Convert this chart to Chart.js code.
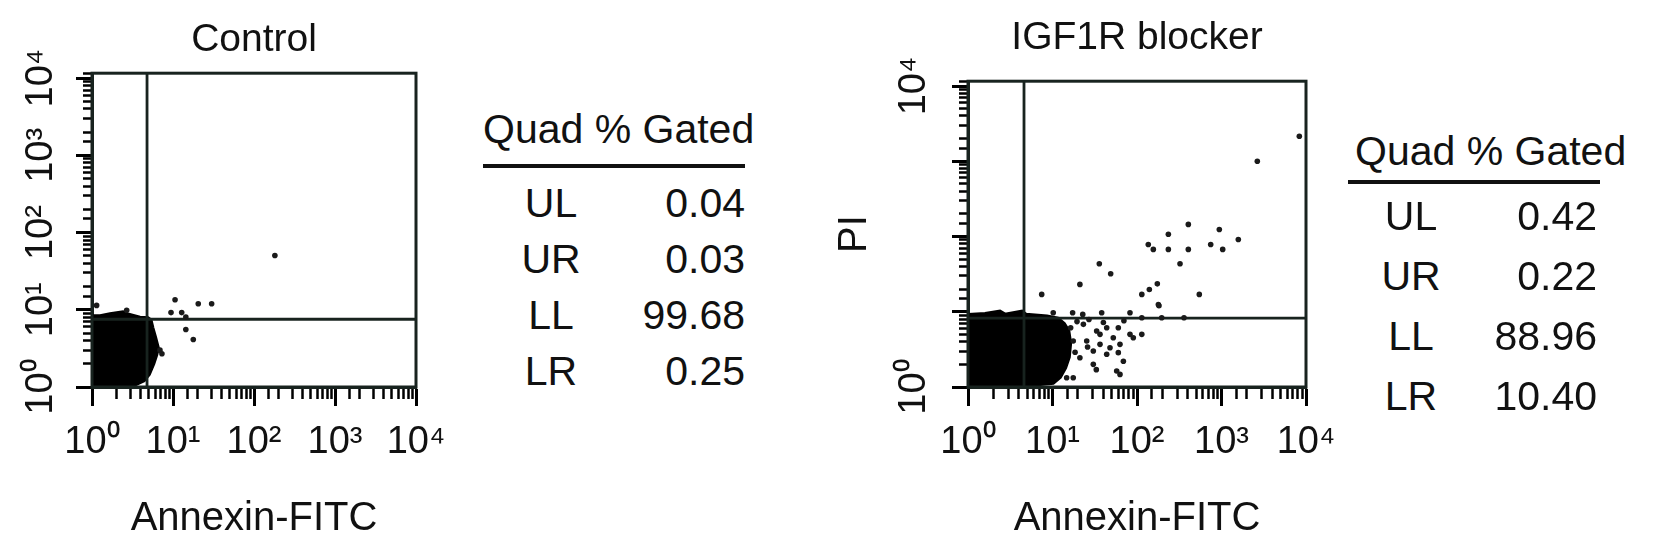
<!DOCTYPE html>
<html>
<head>
<meta charset="utf-8">
<script src="https://cdn.jsdelivr.net/npm/chart.js@4.4.0/dist/chart.umd.min.js"></script>
<style>
  html, body { margin: 0; padding: 0; background: #fff; }
  #page { position: relative; width: 1654px; height: 552px; overflow: hidden;
          font-family: 'Liberation Sans', Arial, sans-serif; color: #111; }
  canvas { position: absolute; top: 0; }
  .quad { position: absolute; font-size: 41px; line-height: 41px; white-space: nowrap; z-index: 2; }
  .rule { position: absolute; height: 4px; background: #111; z-index: 2; }
</style>
</head>
<body>
<div id="page">
  <canvas id="controlChart" width="460" height="552" style="left:0px"></canvas>
  <canvas id="blockerChart" width="530" height="552" style="left:820px"></canvas>
  <div id="controlTable"></div>
  <div id="blockerTable"></div>
</div>
<script>
// log axes, one label per decade
var decadeTicks = [1, 10, 100, 1000, 10000];
var decadeLabels = ['10⁰', '10¹', '10²', '10³', '10⁴'];
var blockerYLabels = ['10⁰', '', '', '', '10⁴'];
var axisMin = 1;
var xAxisMax = 10000;
var yAxisMax = 11600;

// quadrant statistics
var quadNames = ['UL', 'UR', 'LL', 'LR'];
var controlGated = [0.04, 0.03, 99.68, 0.25];
var blockerGated = [0.42, 0.22, 88.96, 10.40];

// quadrant gates (Annexin, PI)
var controlGateX = 4.78, controlGateY = 7.54;
var blockerGateX = 4.6, blockerGateY = 8.25;

// outline of the dense live-cell population (LL)
var controlBlobX = [1, 1, 1.26, 1.67, 2.41, 2.7, 3.91, 4.91, 5.35, 5.66, 6.1, 6.6, 6.3, 5.8, 5.1, 4.4, 3.4, 1.67, 1];
var controlBlobY = [1.03, 8.4, 8.4, 8.9, 9.4, 8.9, 8.0, 7.9, 7.4, 5.8, 4.4, 3.2, 2.6, 2.0, 1.45, 1.2, 1.06, 1.02, 1.03];
var blockerBlobX = [1, 1, 1.59, 2.39, 2.74, 4.36, 4.86, 8.61, 11.6, 13.8, 15.6, 16.4, 15.8, 14.3, 12.4, 10.2, 5.42, 1.82, 1];
var blockerBlobY = [1.08, 9.2, 9.5, 10.2, 9.3, 10.2, 9.3, 8.8, 8.2, 7.0, 5.6, 3.8, 2.5, 1.8, 1.35, 1.12, 1.05, 1.05, 1.08];

// single events outside the main population
var controlEventsX = [1.14, 2.68, 10.6, 20.5, 30.0, 9.45, 12.8, 14.4, 14.4, 17.8, 181, 6.9, 7.3];
var controlEventsY = [11.4, 9.86, 13.5, 12.0, 12.0, 9.2, 9.2, 8.07, 5.55, 4.13, 50.5, 3.0, 2.7];
var blockerEventsX = [16.4, 23.2, 33.3, 43.8, 60.1, 82.6, 114, 17.6, 25.4, 36.5, 52.4, 62.9, 30.4, 43.8, 60.1, 21.1, 30.4, 57.5, 62.9, 90.4, 36.5, 47.9, 14.7, 17.6,
                      19.5, 27.0, 40.0, 70.0, 18.5, 26.0, 33.0, 69.0,
                      10.2, 17.3, 22.8, 38.2, 82.6, 114, 196, 360,
                      7.45, 21.1, 35.8, 48.8, 114, 140, 174, 179, 182, 546, 136, 156, 235, 405, 235, 405, 323, 745, 942, 1033, 1581, 2654, 8337];
var blockerEventsY = [6.13, 6.8, 5.54, 6.13, 6.13, 5.01, 5.01, 4.08, 4.08, 3.69, 4.52, 3.69, 3.01, 2.72, 2.86, 2.45, 2.0, 1.63, 1.47, 4.52, 5.01, 3.33, 1.33, 1.33,
                      7.4, 7.9, 7.2, 7.6, 2.9, 3.4, 1.7, 2.2,
                      9.7, 9.7, 9.23, 9.7, 9.7, 8.32, 8.32, 8.32,
                      17.0, 23.1, 43.4, 32.0, 17.0, 19.8, 23.5, 12.5, 12.0, 17.0, 78.5, 67.4, 107, 145, 67.4, 67.4, 43.4, 78.5, 124, 67.4, 91.4, 1003, 2153];

var frameColor = '#18231f';
Chart.defaults.font.family = "'Liberation Sans', Arial, sans-serif";
Chart.defaults.color = '#111';

function toPoints(xs, ys) {
    return xs.map(function (x, i) { return {x: x, y: ys[i]}; });
}

function isDecade(ctx) {
    return ctx.tick && decadeTicks.indexOf(ctx.tick.value) >= 0;
}

// closes the plot box on all four sides
var boxFrame = {
    id: 'boxFrame',
    afterDatasetsDraw: function (chart) {
        var a = chart.chartArea, c = chart.ctx;
        c.save();
        c.strokeStyle = frameColor;
        c.lineWidth = 3;
        c.strokeRect(a.left, a.top, a.right - a.left, a.bottom - a.top);
        c.restore();
    }
};

function makeChart(id, o) {
    return new Chart(document.getElementById(id), {
        type: 'scatter',
        data: {
            datasets: [
                {   // single events
                    data: toPoints(o.eventsX, o.eventsY),
                    pointRadius: 2.8,
                    pointBackgroundColor: '#1a1a1a',
                    pointBorderWidth: 0,
                    order: 0
                },
                {   // vertical gate
                    data: [{x: o.gateX, y: axisMin}, {x: o.gateX, y: yAxisMax}],
                    showLine: true, pointRadius: 0,
                    borderColor: frameColor, borderWidth: 2.8,
                    order: 1
                },
                {   // horizontal gate
                    data: [{x: axisMin, y: o.gateY}, {x: xAxisMax, y: o.gateY}],
                    showLine: true, pointRadius: 0,
                    borderColor: frameColor, borderWidth: 2.8,
                    order: 1
                },
                {   // dense population
                    data: toPoints(o.blobX, o.blobY),
                    showLine: true, pointRadius: 0, tension: 0,
                    borderColor: '#000', borderWidth: 3,
                    backgroundColor: '#000',
                    fill: 'shape',
                    order: 2
                }
            ]
        },
        options: {
            responsive: false,
            animation: false,
            devicePixelRatio: 1,
            layout: {padding: {left: 0, right: 44, top: 0, bottom: 0}},
            plugins: {
                legend: {display: false},
                tooltip: {enabled: false},
                title: {
                    display: true,
                    text: o.title,
                    fullSize: false,
                    color: '#111',
                    font: {size: 39, weight: 'normal'},
                    padding: o.titlePad
                }
            },
            scales: {
                x: {
                    type: 'logarithmic',
                    min: axisMin,
                    max: xAxisMax,
                    border: {display: true, color: frameColor, width: 3},
                    grid: {
                        drawOnChartArea: false,
                        tickLength: 19,
                        tickColor: '#000',
                        tickWidth: function (ctx) { return isDecade(ctx) ? 3 : 2.5; },
                        tickBorderDash: function (ctx) { return isDecade(ctx) ? [] : [10, 100]; }
                    },
                    ticks: {
                        autoSkip: false,
                        minRotation: 0,
                        maxRotation: 0,
                        padding: 14,
                        color: '#111',
                        font: {size: 38},
                        callback: function (value) {
                            var i = decadeTicks.indexOf(value);
                            return i >= 0 ? decadeLabels[i] : '';
                        }
                    },
                    title: {
                        display: true,
                        text: 'Annexin-FITC',
                        color: '#111',
                        font: {size: 40},
                        padding: {top: 0, bottom: 9}
                    },
                    afterFit: function (scale) { scale.height = 165; }
                },
                y: {
                    type: 'logarithmic',
                    min: axisMin,
                    max: yAxisMax,
                    border: {display: true, color: frameColor, width: 3},
                    grid: {
                        drawOnChartArea: false,
                        tickLength: 16,
                        tickColor: '#000',
                        tickWidth: function (ctx) { return isDecade(ctx) ? 3 : 2.5; },
                        tickBorderDash: function (ctx) { return isDecade(ctx) ? [] : [0, 7, 9, 100]; }
                    },
                    ticks: {
                        autoSkip: false,
                        minRotation: 90,
                        maxRotation: 90,
                        crossAlign: 'center',
                        padding: o.yPad,
                        color: '#111',
                        font: {size: 38},
                        callback: function (value) {
                            var i = decadeTicks.indexOf(value);
                            return i >= 0 ? o.yLabels[i] : '';
                        }
                    },
                    title: {
                        display: !!o.yTitle,
                        text: o.yTitle || '',
                        color: '#111',
                        font: {size: 40},
                        padding: {top: 11, bottom: 0}
                    },
                    afterFit: function (scale) { scale.width = o.yWidth; }
                }
            }
        },
        plugins: [boxFrame]
    });
}

makeChart('controlChart', {
    title: 'Control',
    titlePad: {top: 16.7, bottom: 9.7},
    blobX: controlBlobX, blobY: controlBlobY,
    eventsX: controlEventsX, eventsY: controlEventsY,
    gateX: controlGateX, gateY: controlGateY,
    yLabels: decadeLabels,
    yWidth: 92,
    yPad: 5
});

makeChart('blockerChart', {
    title: 'IGF1R blocker',
    titlePad: {top: 15.2, bottom: 19.2},
    blobX: blockerBlobX, blobY: blockerBlobY,
    eventsX: blockerEventsX, eventsY: blockerEventsY,
    gateX: blockerGateX, gateY: blockerGateY,
    yLabels: blockerYLabels,
    yTitle: 'PI',
    yWidth: 148,
    yPad: 8.5
});

// the "Quad % Gated" tables
function buildTable(id, values, o) {
    var html = '<div class="quad" style="left:' + o.headLeft + 'px;top:' + o.headTop + 'px">Quad % Gated</div>';
    html += '<div class="rule" style="left:' + o.ruleLeft + 'px;top:' + o.ruleTop + 'px;width:' + o.ruleWidth + 'px"></div>';
    quadNames.forEach(function (name, i) {
        var top = o.rowTop + i * o.rowStep;
        html += '<div class="quad" style="left:' + (o.nameCenter - 50) + 'px;width:100px;text-align:center;top:' + top + 'px">' + name + '</div>';
        html += '<div class="quad" style="left:' + (o.valueRight - 160) + 'px;width:160px;text-align:right;top:' + top + 'px">' + values[i].toFixed(2) + '</div>';
    });
    document.getElementById(id).innerHTML = html;
}

buildTable('controlTable', controlGated, {
    headLeft: 483, headTop: 109,
    ruleLeft: 483, ruleTop: 164, ruleWidth: 262,
    nameCenter: 551, valueRight: 745,
    rowTop: 183, rowStep: 56
});

buildTable('blockerTable', blockerGated, {
    headLeft: 1355, headTop: 131,
    ruleLeft: 1348, ruleTop: 180, ruleWidth: 252,
    nameCenter: 1411, valueRight: 1597,
    rowTop: 196, rowStep: 60
});
</script>
</body>
</html>
